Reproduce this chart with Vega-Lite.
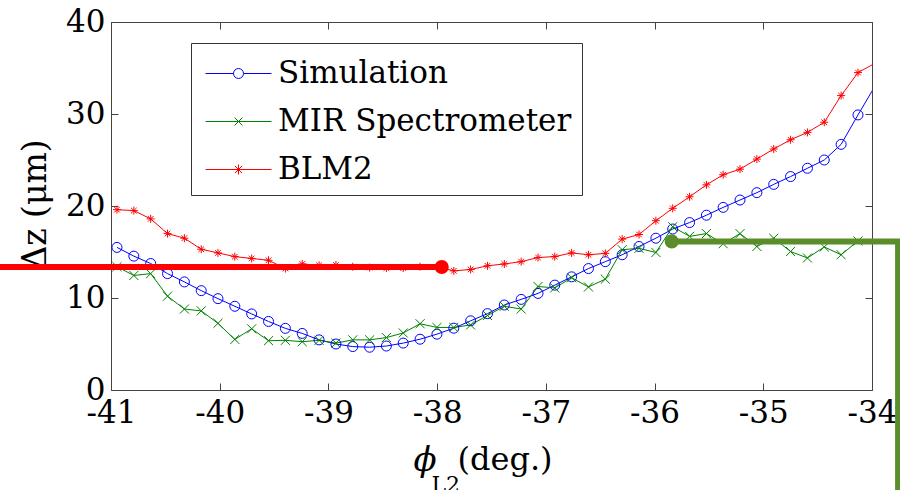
{
  "$schema": "https://vega.github.io/schema/vega-lite/v6.json",
  "width": 761,
  "height": 368,
  "autosize": {"type": "none"},
  "padding": {"left": 111, "top": 22, "right": 28, "bottom": 100},
  "background": "white",
  "config": {
    "view": {"stroke": "#444", "strokeWidth": 1},
    "font": "DejaVu Serif",
    "axis": {"grid": false, "domain": false, "tickColor": "#444", "tickWidth": 1, "labelFont": "DejaVu Serif", "titleFont": "DejaVu Serif", "labelColor": "black", "titleColor": "black", "titleFontWeight": "normal"},
    "legend": {"labelFont": "DejaVu Serif"}
  },
  "datasets": {
    "series": [
      {"x": -40.945, "s": "Simulation", "y": 15.5}, {"x": -40.79, "s": "Simulation", "y": 14.55}, {"x": -40.635, "s": "Simulation", "y": 13.75}, {"x": -40.48, "s": "Simulation", "y": 12.65}, {"x": -40.325, "s": "Simulation", "y": 11.75}, {"x": -40.17, "s": "Simulation", "y": 10.8}, {"x": -40.016, "s": "Simulation", "y": 9.93}, {"x": -39.861, "s": "Simulation", "y": 9.1}, {"x": -39.706, "s": "Simulation", "y": 8.27}, {"x": -39.551, "s": "Simulation", "y": 7.45}, {"x": -39.396, "s": "Simulation", "y": 6.7}, {"x": -39.241, "s": "Simulation", "y": 6.15}, {"x": -39.086, "s": "Simulation", "y": 5.45}, {"x": -38.931, "s": "Simulation", "y": 5.0}, {"x": -38.776, "s": "Simulation", "y": 4.72}, {"x": -38.621, "s": "Simulation", "y": 4.65}, {"x": -38.467, "s": "Simulation", "y": 4.78}, {"x": -38.312, "s": "Simulation", "y": 5.1}, {"x": -38.157, "s": "Simulation", "y": 5.52}, {"x": -38.002, "s": "Simulation", "y": 6.07}, {"x": -37.847, "s": "Simulation", "y": 6.72}, {"x": -37.692, "s": "Simulation", "y": 7.52}, {"x": -37.537, "s": "Simulation", "y": 8.3}, {"x": -37.382, "s": "Simulation", "y": 9.24}, {"x": -37.227, "s": "Simulation", "y": 9.85}, {"x": -37.072, "s": "Simulation", "y": 10.5}, {"x": -36.918, "s": "Simulation", "y": 11.4}, {"x": -36.763, "s": "Simulation", "y": 12.3}, {"x": -36.608, "s": "Simulation", "y": 13.2}, {"x": -36.453, "s": "Simulation", "y": 13.95}, {"x": -36.298, "s": "Simulation", "y": 14.7}, {"x": -36.143, "s": "Simulation", "y": 15.6}, {"x": -35.988, "s": "Simulation", "y": 16.5}, {"x": -35.833, "s": "Simulation", "y": 17.5}, {"x": -35.678, "s": "Simulation", "y": 18.2}, {"x": -35.523, "s": "Simulation", "y": 19.0}, {"x": -35.369, "s": "Simulation", "y": 19.85}, {"x": -35.214, "s": "Simulation", "y": 20.65}, {"x": -35.059, "s": "Simulation", "y": 21.45}, {"x": -34.904, "s": "Simulation", "y": 22.35}, {"x": -34.749, "s": "Simulation", "y": 23.2}, {"x": -34.594, "s": "Simulation", "y": 24.1}, {"x": -34.439, "s": "Simulation", "y": 25.0}, {"x": -34.284, "s": "Simulation", "y": 26.7}, {"x": -34.129, "s": "Simulation", "y": 29.9}, {"x": -33.974, "s": "Simulation", "y": 33.0},
      {"x": -40.945, "s": "MIR Spectrometer", "y": 13.4}, {"x": -40.79, "s": "MIR Spectrometer", "y": 12.45}, {"x": -40.635, "s": "MIR Spectrometer", "y": 12.65}, {"x": -40.48, "s": "MIR Spectrometer", "y": 10.2}, {"x": -40.325, "s": "MIR Spectrometer", "y": 8.8}, {"x": -40.17, "s": "MIR Spectrometer", "y": 8.6}, {"x": -40.016, "s": "MIR Spectrometer", "y": 7.25}, {"x": -39.861, "s": "MIR Spectrometer", "y": 5.5}, {"x": -39.706, "s": "MIR Spectrometer", "y": 6.65}, {"x": -39.551, "s": "MIR Spectrometer", "y": 5.36}, {"x": -39.396, "s": "MIR Spectrometer", "y": 5.4}, {"x": -39.241, "s": "MIR Spectrometer", "y": 5.25}, {"x": -39.086, "s": "MIR Spectrometer", "y": 5.4}, {"x": -38.931, "s": "MIR Spectrometer", "y": 5.1}, {"x": -38.776, "s": "MIR Spectrometer", "y": 5.45}, {"x": -38.621, "s": "MIR Spectrometer", "y": 5.45}, {"x": -38.467, "s": "MIR Spectrometer", "y": 5.7}, {"x": -38.312, "s": "MIR Spectrometer", "y": 6.2}, {"x": -38.157, "s": "MIR Spectrometer", "y": 7.2}, {"x": -38.002, "s": "MIR Spectrometer", "y": 6.8}, {"x": -37.847, "s": "MIR Spectrometer", "y": 6.8}, {"x": -37.692, "s": "MIR Spectrometer", "y": 7.07}, {"x": -37.537, "s": "MIR Spectrometer", "y": 8.1}, {"x": -37.382, "s": "MIR Spectrometer", "y": 9.1}, {"x": -37.227, "s": "MIR Spectrometer", "y": 8.8}, {"x": -37.072, "s": "MIR Spectrometer", "y": 11.25}, {"x": -36.918, "s": "MIR Spectrometer", "y": 11.1}, {"x": -36.763, "s": "MIR Spectrometer", "y": 12.2}, {"x": -36.608, "s": "MIR Spectrometer", "y": 11.2}, {"x": -36.453, "s": "MIR Spectrometer", "y": 12.05}, {"x": -36.298, "s": "MIR Spectrometer", "y": 15.25}, {"x": -36.143, "s": "MIR Spectrometer", "y": 15.4}, {"x": -35.988, "s": "MIR Spectrometer", "y": 14.95}, {"x": -35.833, "s": "MIR Spectrometer", "y": 17.75}, {"x": -35.678, "s": "MIR Spectrometer", "y": 16.7}, {"x": -35.523, "s": "MIR Spectrometer", "y": 17.0}, {"x": -35.369, "s": "MIR Spectrometer", "y": 15.9}, {"x": -35.214, "s": "MIR Spectrometer", "y": 17.0}, {"x": -35.059, "s": "MIR Spectrometer", "y": 15.6}, {"x": -34.904, "s": "MIR Spectrometer", "y": 16.5}, {"x": -34.749, "s": "MIR Spectrometer", "y": 15.05}, {"x": -34.594, "s": "MIR Spectrometer", "y": 14.35}, {"x": -34.439, "s": "MIR Spectrometer", "y": 15.55}, {"x": -34.284, "s": "MIR Spectrometer", "y": 14.7}, {"x": -34.129, "s": "MIR Spectrometer", "y": 16.2}, {"x": -33.974, "s": "MIR Spectrometer", "y": 15.9},
      {"x": -40.945, "s": "BLM2", "y": 19.6}, {"x": -40.79, "s": "BLM2", "y": 19.5}, {"x": -40.635, "s": "BLM2", "y": 18.6}, {"x": -40.48, "s": "BLM2", "y": 17.0}, {"x": -40.325, "s": "BLM2", "y": 16.5}, {"x": -40.17, "s": "BLM2", "y": 15.3}, {"x": -40.016, "s": "BLM2", "y": 14.9}, {"x": -39.861, "s": "BLM2", "y": 14.5}, {"x": -39.706, "s": "BLM2", "y": 14.3}, {"x": -39.551, "s": "BLM2", "y": 14.1}, {"x": -39.396, "s": "BLM2", "y": 13.2}, {"x": -39.241, "s": "BLM2", "y": 13.7}, {"x": -39.086, "s": "BLM2", "y": 13.55}, {"x": -38.931, "s": "BLM2", "y": 13.6}, {"x": -38.776, "s": "BLM2", "y": 13.4}, {"x": -38.621, "s": "BLM2", "y": 13.3}, {"x": -38.467, "s": "BLM2", "y": 13.25}, {"x": -38.312, "s": "BLM2", "y": 13.25}, {"x": -38.157, "s": "BLM2", "y": 13.4}, {"x": -38.002, "s": "BLM2", "y": 13.4}, {"x": -37.847, "s": "BLM2", "y": 12.95}, {"x": -37.692, "s": "BLM2", "y": 13.1}, {"x": -37.537, "s": "BLM2", "y": 13.5}, {"x": -37.382, "s": "BLM2", "y": 13.7}, {"x": -37.227, "s": "BLM2", "y": 13.95}, {"x": -37.072, "s": "BLM2", "y": 14.4}, {"x": -36.918, "s": "BLM2", "y": 14.5}, {"x": -36.763, "s": "BLM2", "y": 14.9}, {"x": -36.608, "s": "BLM2", "y": 14.7}, {"x": -36.453, "s": "BLM2", "y": 14.85}, {"x": -36.298, "s": "BLM2", "y": 16.4}, {"x": -36.143, "s": "BLM2", "y": 16.9}, {"x": -35.988, "s": "BLM2", "y": 18.4}, {"x": -35.833, "s": "BLM2", "y": 19.75}, {"x": -35.678, "s": "BLM2", "y": 21.0}, {"x": -35.523, "s": "BLM2", "y": 22.3}, {"x": -35.369, "s": "BLM2", "y": 23.4}, {"x": -35.214, "s": "BLM2", "y": 24.0}, {"x": -35.059, "s": "BLM2", "y": 25.1}, {"x": -34.904, "s": "BLM2", "y": 26.2}, {"x": -34.749, "s": "BLM2", "y": 27.2}, {"x": -34.594, "s": "BLM2", "y": 28.0}, {"x": -34.439, "s": "BLM2", "y": 29.1}, {"x": -34.284, "s": "BLM2", "y": 32.0}, {"x": -34.129, "s": "BLM2", "y": 34.5}, {"x": -33.974, "s": "BLM2", "y": 35.5}
    ],
    "redline": [{"x": -42.1, "y": 13.37}, {"x": -37.958, "y": 13.37}],
    "reddot": [{"x": -37.958, "y": 13.37}],
    "greenline": [{"x": -35.842, "y": 16.15, "k": 1}, {"x": -33.76, "y": 16.15, "k": 2}, {"x": -33.76, "y": -12, "k": 3}],
    "greendot": [{"x": -35.842, "y": 16.15}]
  },
  "resolve": {
    "scale": {"color": "independent", "shape": "independent", "size": "independent"},
    "axis": {"x": "independent", "y": "independent"}
  },
  "layer": [
    {
      "data": {"name": "series"},
      "mark": {"type": "line", "strokeWidth": 1, "clip": true},
      "encoding": {
        "x": {"field": "x", "type": "quantitative", "scale": {"domain": [-41, -34], "nice": false, "zero": false},
          "axis": {"orient": "bottom", "values": [-41, -40, -39, -38, -37, -36, -35, -34], "tickSize": -7, "labelFontSize": 31, "labelPadding": 15, "labelExpr": "'' + datum.value", "labelFlush": false, "labelOverlap": false,
            "title": "(deg.)", "titleFontSize": 32, "titleX": 346, "titleY": 79, "titleAlign": "left", "titleBaseline": "alphabetic", "titleAngle": 0}},
        "y": {"field": "y", "type": "quantitative", "scale": {"domain": [0, 40], "nice": false, "zero": false},
          "axis": {"orient": "left", "values": [0, 10, 20, 30, 40], "tickSize": -7, "labelFontSize": 31, "labelPadding": 13, "labelExpr": "'' + datum.value", "labelFlush": false, "labelOverlap": false,
            "title": "Δz (μm)", "titleFontSize": 33, "titleX": -76, "titleY": 182, "titleAngle": -90, "titleAlign": "center", "titleBaseline": "middle"}},
        "color": {"field": "s", "type": "nominal", "scale": {"domain": ["Simulation", "MIR Spectrometer", "BLM2"], "range": ["#0000ff", "#008000", "#ff0000"]}, "legend": null}
      }
    },
    {
      "data": {"name": "series"},
      "transform": [{"filter": "datum.x < -34"}],
      "mark": {"type": "point", "filled": false, "strokeWidth": 1, "opacity": 1, "clip": true},
      "encoding": {
        "x": {"field": "x", "type": "quantitative", "scale": {"domain": [-41, -34], "nice": false, "zero": false},
          "axis": {"orient": "top", "values": [-41, -40, -39, -38, -37, -36, -35, -34], "tickSize": -7, "labels": false, "title": null}},
        "y": {"field": "y", "type": "quantitative", "scale": {"domain": [0, 40], "nice": false, "zero": false},
          "axis": {"orient": "right", "values": [0, 10, 20, 30, 40], "tickSize": -7, "labels": false, "title": null}},
        "color": {"field": "s", "type": "nominal", "scale": {"domain": ["Simulation", "MIR Spectrometer", "BLM2"], "range": ["#0000ff", "#008000", "#ff0000"]}, "legend": null},
        "shape": {"field": "s", "type": "nominal", "scale": {"domain": ["Simulation", "MIR Spectrometer", "BLM2"], "range": ["circle", "M-1,-1L1,1M-1,1L1,-1", "M0,-1L0,1M-1,0L1,0M-0.7,-0.7L0.7,0.7M-0.7,0.7L0.7,-0.7"]}, "legend": null},
        "size": {"field": "s", "type": "ordinal", "scale": {"domain": ["Simulation", "MIR Spectrometer", "BLM2"], "range": [100, 64, 110]}, "legend": null}
      }
    },
    {
      "data": {"name": "series"},
      "transform": [{"filter": "datum.y > 1000"}],
      "mark": {"type": "point", "filled": false, "strokeWidth": 1, "opacity": 1},
      "encoding": {
        "x": {"field": "x", "type": "quantitative", "scale": {"domain": [-41, -34], "nice": false, "zero": false}, "axis": null},
        "y": {"field": "y", "type": "quantitative", "scale": {"domain": [0, 40], "nice": false, "zero": false}, "axis": null},
        "color": {"field": "s", "type": "nominal", "scale": {"domain": ["Simulation", "MIR Spectrometer", "BLM2"], "range": ["#0000ff", "#008000", "#ff0000"]},
          "legend": {"orient": "none", "legendX": 80, "legendY": 21, "title": null, "padding": 10, "symbolSize": 1600, "symbolOffset": 17, "labelOffset": 19, "labelFontSize": 31, "labelColor": "black", "strokeColor": "#333", "fillColor": "white", "rowPadding": 12, "symbolStrokeWidth": 1, "labelLimit": 0}},
        "shape": {"field": "s", "type": "nominal", "scale": {"domain": ["Simulation", "MIR Spectrometer", "BLM2"], "range": ["M-1.65,0L-0.25,0M0.25,0L1.65,0M-0.25,0A0.25,0.25,0,1,0,0.25,0A0.25,0.25,0,1,0,-0.25,0", "M-1.65,0L1.65,0M-0.2,-0.2L0.2,0.2M-0.2,0.2L0.2,-0.2", "M-1.65,0L1.65,0M0,-0.25L0,0.25M-0.18,-0.18L0.18,0.18M-0.18,0.18L0.18,-0.18"]},
          "legend": {"orient": "none", "legendX": 80, "legendY": 21, "title": null, "padding": 10, "symbolSize": 1600, "symbolOffset": 17, "labelOffset": 19, "labelFontSize": 31, "labelColor": "black", "strokeColor": "#333", "fillColor": "white", "rowPadding": 12, "symbolStrokeWidth": 1, "labelLimit": 0}}
      }
    },
    {
      "data": {"name": "redline"},
      "mark": {"type": "line", "color": "#ff0000", "strokeWidth": 6},
      "encoding": {
        "x": {"field": "x", "type": "quantitative", "scale": {"domain": [-41, -34], "nice": false, "zero": false},
          "axis": {"orient": "bottom", "labels": false, "ticks": false, "title": "ϕ", "titleFontSize": 34, "titleFontStyle": "italic", "titleX": 302, "titleY": 80, "titleAlign": "left", "titleBaseline": "alphabetic", "titleAngle": 0}},
        "y": {"field": "y", "type": "quantitative", "scale": {"domain": [0, 40], "nice": false, "zero": false}, "axis": null}
      }
    },
    {
      "data": {"name": "reddot"},
      "mark": {"type": "point", "filled": true, "color": "#ff0000", "opacity": 1, "size": 200},
      "encoding": {
        "x": {"field": "x", "type": "quantitative", "scale": {"domain": [-41, -34], "nice": false, "zero": false},
          "axis": {"orient": "bottom", "labels": false, "ticks": false, "title": "L2", "titleFontSize": 22, "titleX": 320, "titleY": 101, "titleAlign": "left", "titleBaseline": "alphabetic", "titleAngle": 0}},
        "y": {"field": "y", "type": "quantitative", "scale": {"domain": [0, 40], "nice": false, "zero": false}, "axis": null}
      }
    },
    {
      "data": {"name": "greenline"},
      "mark": {"type": "line", "color": "#5b8e2a", "strokeWidth": 6},
      "encoding": {
        "x": {"field": "x", "type": "quantitative", "scale": {"domain": [-41, -34], "nice": false, "zero": false}, "axis": null},
        "y": {"field": "y", "type": "quantitative", "scale": {"domain": [0, 40], "nice": false, "zero": false}, "axis": null},
        "order": {"field": "k", "type": "quantitative"}
      }
    },
    {
      "data": {"name": "greendot"},
      "mark": {"type": "point", "filled": true, "color": "#5b8e2a", "opacity": 1, "size": 200},
      "encoding": {
        "x": {"field": "x", "type": "quantitative", "scale": {"domain": [-41, -34], "nice": false, "zero": false}, "axis": null},
        "y": {"field": "y", "type": "quantitative", "scale": {"domain": [0, 40], "nice": false, "zero": false}, "axis": null}
      }
    }
  ]
}
